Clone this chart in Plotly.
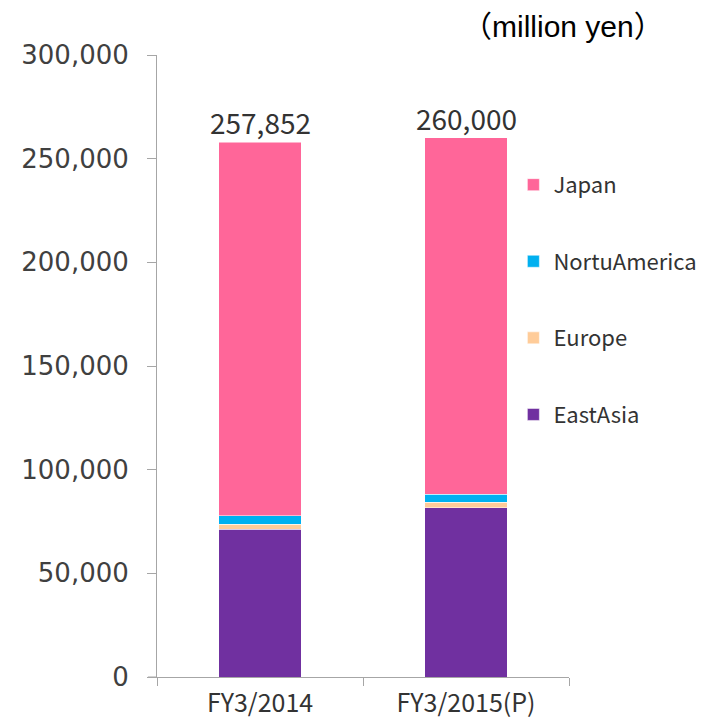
import plotly.graph_objects as go

# data (million yen)
years = ["FY3/2014", "FY3/2015(P)"]
east_asia = [71200, 81600]
europe = [2400, 2600]
north_america = [4100, 4000]
japan = [180152, 171800]
totals = [257852, 260000]
total_labels = ["257,852", "260,000"]

y_ticks = [0, 50000, 100000, 150000, 200000, 250000, 300000]
y_tick_text = ["0", "50,000", "100,000", "150,000", "200,000", "250,000", "300,000"]

series = [
    ("EastAsia", east_asia, "#7030A0"),
    ("Europe", europe, "#FFCC99"),
    ("NortuAmerica", north_america, "#00B0F0"),
    ("Japan", japan, "#FF6699"),
]

JP_FONT = "Noto Sans CJK JP"

fig = go.Figure()
for i, (name, vals, color) in enumerate(series):
    fig.add_trace(go.Bar(
        x=years, y=vals, name=name, legendgroup=name, legendrank=len(series) - i,
        marker=dict(color=color, line=dict(color="rgba(255,255,255,0.5)", width=1)),
    ))

# total labels above bars
for yr, tot, lab in zip(years, totals, total_labels):
    fig.add_annotation(x=yr, y=tot, text=lab, showarrow=False, yanchor="bottom",
                       yshift=-2, font=dict(family=JP_FONT, size=28, color="#333333"))

fig.add_annotation(xref="paper", yref="paper", x=0.985, y=1.046, text="（million yen）",
                   showarrow=False, xanchor="center", yanchor="middle",
                   font=dict(family="Liberation Sans, " + JP_FONT, size=30, color="#000000"))

# x axis line runs a little past the y axis, like the tick marks
fig.add_shape(type="line", xref="paper", yref="paper", x0=-0.022, x1=0, y0=0, y1=0,
              line=dict(color="#A6A6A6", width=1))

# page body has an 8px margin, so the figure is 8px smaller each way
fig.update_layout(
    width=705, height=713,
    barmode="stack", bargap=0.6,
    plot_bgcolor="white", paper_bgcolor="white",
    margin=dict(l=149, r=144, t=47, b=44, autoexpand=False),
    legend=dict(
        x=0.865, y=0.825, xanchor="left", yanchor="top",
        traceorder="grouped", tracegroupgap=45,
        font=dict(family=JP_FONT, size=22, color="#333333"),
        bgcolor="rgba(0,0,0,0)", itemwidth=30,
    ),
)
fig.update_xaxes(
    automargin=False,
    showline=True, linecolor="#A6A6A6", linewidth=1,
    ticks="outside", tickson="boundaries", ticklen=8, tickcolor="#A6A6A6",
    ticklabelstandoff=4,
    tickfont=dict(family=JP_FONT, size=25, color="#333333"),
)
fig.update_yaxes(
    automargin=False,
    range=[0, 300000], tickvals=y_ticks, ticktext=y_tick_text,
    showline=True, linecolor="#A6A6A6", linewidth=1, showgrid=False, zeroline=False,
    ticks="outside", ticklen=9, tickcolor="#A6A6A6", ticklabelstandoff=13,
    tickfont=dict(family="DejaVu Sans", size=26, color="#404040"),
)

fig.write_html("out.html")
